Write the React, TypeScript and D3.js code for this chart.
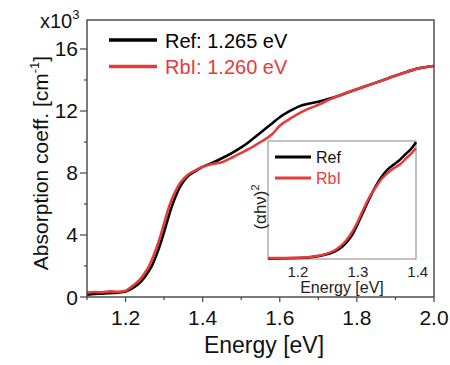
import React from "react";
import * as d3 from "d3";

const energyMain = [1.10, 1.12, 1.14, 1.16, 1.18, 1.20, 1.22, 1.24, 1.25, 1.26, 1.27, 1.28, 1.29, 1.30, 1.31, 1.32, 1.33, 1.34, 1.35, 1.36, 1.38, 1.40, 1.42, 1.45, 1.48, 1.50, 1.52, 1.55, 1.58, 1.60, 1.63, 1.65, 1.68, 1.70, 1.73, 1.76, 1.80, 1.84, 1.88, 1.92, 1.96, 2.00];
const refAbs = [0.15, 0.2, 0.22, 0.25, 0.28, 0.35, 0.6, 1.0, 1.3, 1.65, 2.1, 2.7, 3.4, 4.2, 5.05, 5.85, 6.5, 7.05, 7.45, 7.75, 8.1, 8.4, 8.6, 8.95, 9.35, 9.65, 10.0, 10.6, 11.2, 11.6, 12.05, 12.3, 12.5, 12.6, 12.8, 13.05, 13.4, 13.75, 14.1, 14.45, 14.75, 14.9];
const rbiAbs = [0.28, 0.32, 0.3, 0.36, 0.33, 0.4, 0.75, 1.2, 1.55, 1.95, 2.5, 3.15, 3.9, 4.75, 5.6, 6.3, 6.85, 7.3, 7.6, 7.85, 8.15, 8.4, 8.55, 8.7, 9.05, 9.3, 9.55, 10.0, 10.5, 11.05, 11.55, 11.85, 12.2, 12.4, 12.75, 13.05, 13.4, 13.75, 14.1, 14.45, 14.75, 14.9];

const energyInset = [1.15, 1.20, 1.22, 1.24, 1.26, 1.27, 1.28, 1.29, 1.30, 1.31, 1.32, 1.33, 1.34, 1.35, 1.36, 1.37, 1.38, 1.39, 1.397];
const refTauc = [0.005, 0.008, 0.014, 0.03, 0.06, 0.09, 0.135, 0.2, 0.3, 0.41, 0.52, 0.62, 0.7, 0.76, 0.8, 0.84, 0.89, 0.94, 0.99];
const rbiTauc = [0.008, 0.011, 0.017, 0.034, 0.07, 0.105, 0.155, 0.225, 0.32, 0.43, 0.53, 0.61, 0.68, 0.73, 0.77, 0.8, 0.85, 0.9, 0.94];

const xMajorTicks = [1.2, 1.4, 1.6, 1.8, 2.0];
const xMinorTicks = [1.1, 1.3, 1.5, 1.7, 1.9];
const yMajorTicks = [0, 4, 8, 12, 16];
const yMinorTicks = [2, 6, 10, 14];
const insetTicks = [1.2, 1.3, 1.4];

const legendLabels = ["Ref: 1.265 eV", "RbI: 1.260 eV"];
const insetLegend = ["Ref", "RbI"];

const BLACK = "#000000";
const RED = "#e53b3b";
const FONT = "'Liberation Sans', Arial, sans-serif";

export default function App() {
  const x = d3.scaleLinear().domain([1.1, 2.0]).range([87, 434]);
  const y = d3.scaleLinear().domain([0, 17.87]).range([297, 20]);
  const xi = d3.scaleLinear().domain([1.15, 1.397]).range([268, 416]);
  const yi = d3.scaleLinear().domain([0, 1]).range([259, 141]);

  const mainLine = (vals: number[]) =>
    d3.line<number>().x((_, i) => x(energyMain[i])).y((d) => y(d)).curve(d3.curveMonotoneX)(vals) || "";
  const insetLine = (vals: number[]) =>
    d3.line<number>().x((_, i) => xi(energyInset[i])).y((d) => yi(d)).curve(d3.curveMonotoneX)(vals) || "";

  const colors = [BLACK, RED];

  return (
    <svg width={450} height={365} style={{ position: "absolute", left: 0, top: 0, background: "#fff" }} fontFamily={FONT}>
      <rect x={0} y={0} width={450} height={365} fill="#fff" />
      <path d={mainLine(refAbs)} fill="none" stroke={BLACK} strokeWidth={2.6} />
      <path d={mainLine(rbiAbs)} fill="none" stroke={RED} strokeWidth={2.6} />

      <rect x={87} y={20} width={347} height={277} fill="none" stroke="#444" strokeWidth={1.4} />
      {xMajorTicks.map((t) => (
        <g key={"xm" + t}>
          <line x1={x(t)} x2={x(t)} y1={297} y2={302} stroke="#444" strokeWidth={1.2} />
          <text x={x(t)} y={325} textAnchor="middle" fontSize={21} fill="#111">{t.toFixed(1)}</text>
        </g>
      ))}
      {xMinorTicks.map((t) => (
        <line key={"xn" + t} x1={x(t)} x2={x(t)} y1={297} y2={300} stroke="#444" strokeWidth={1.2} />
      ))}
      {yMajorTicks.map((t) => (
        <g key={"ym" + t}>
          <line x1={80} x2={87} y1={y(t)} y2={y(t)} stroke="#444" strokeWidth={1.2} />
          <text x={78} y={y(t) + 7.5} textAnchor="end" fontSize={21} fill="#111">{t}</text>
        </g>
      ))}
      {yMinorTicks.map((t) => (
        <line key={"yn" + t} x1={84} x2={87} y1={y(t)} y2={y(t)} stroke="#444" strokeWidth={1.2} />
      ))}
      <text x={40} y={28} fontSize={20} fill="#111">x10<tspan dy={-9} fontSize={13}>3</tspan></text>

      <text transform="translate(48,163) rotate(-90)" textAnchor="middle" fontSize={21} fill="#111">
        Absorption coeff. [cm<tspan dy={-9} fontSize={13}>-1</tspan><tspan dy={9}>]</tspan>
      </text>
      <text x={264} y={353} textAnchor="middle" fontSize={23} fill="#111">Energy [eV]</text>

      {legendLabels.map((lab, i) => (
        <g key={lab}>
          <line x1={109} x2={157} y1={40 + i * 26.5} y2={40 + i * 26.5} stroke={colors[i]} strokeWidth={3.5} />
          <text x={165} y={47.5 + i * 26} fontSize={20} fill={colors[i]}>{lab}</text>
        </g>
      ))}

      <rect x={268} y={141} width={148} height={118} fill="#fff" stroke="#999" strokeWidth={1.2} />
      <path d={insetLine(refTauc)} fill="none" stroke={BLACK} strokeWidth={2.5} />
      <path d={insetLine(rbiTauc)} fill="none" stroke={RED} strokeWidth={2.5} />
      {insetTicks.map((t) => (
        <text key={"it" + t} x={xi(t)} y={277} textAnchor="middle" fontSize={15} fill="#222">{t.toFixed(1)}</text>
      ))}
      <text x={342} y={293} textAnchor="middle" fontSize={16} fill="#222">Energy [eV]</text>
      <text transform="translate(266,207) rotate(-90)" textAnchor="middle" fontSize={17} fill="#222">
        (αhν)<tspan dy={-7} fontSize={11}>2</tspan>
      </text>
      {insetLegend.map((lab, i) => (
        <g key={lab}>
          <line x1={275} x2={311} y1={157 + i * 21} y2={157 + i * 21} stroke={colors[i]} strokeWidth={3.2} />
          <text x={316} y={162.5 + i * 21} fontSize={16} fill={i === 0 ? "#111" : RED}>{lab}</text>
        </g>
      ))}
    </svg>
  );
}
